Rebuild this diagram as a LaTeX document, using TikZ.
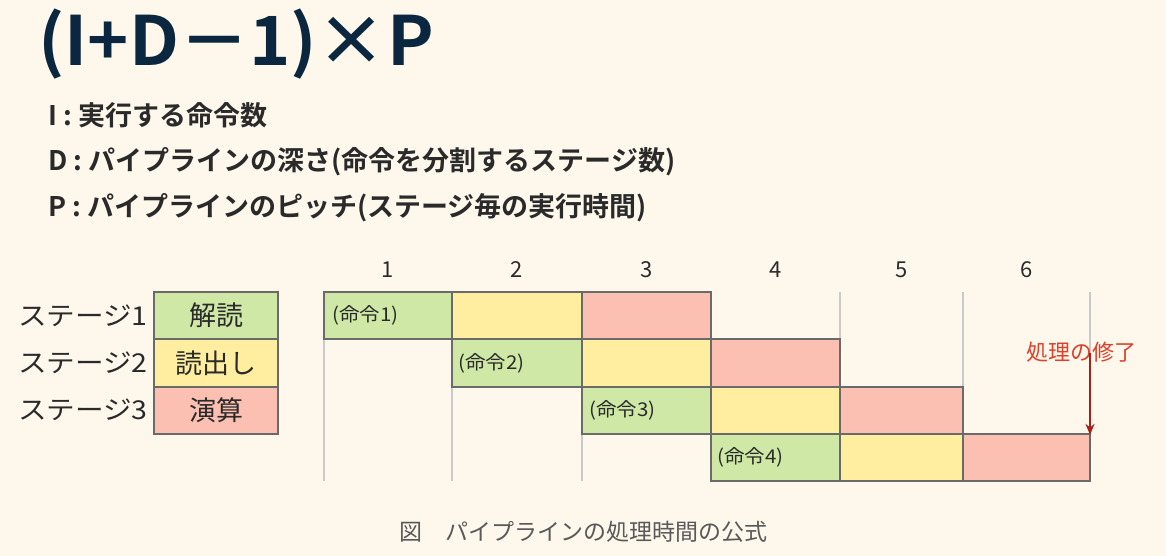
\documentclass[tikz,border=0pt]{standalone}
\usepackage{fontspec}
\setmainfont{Noto Sans CJK JP}
\newfontfamily\jp{Noto Sans CJK JP}
\newfontfamily\jpb{Noto Sans CJK JP Bold}
\usetikzlibrary{arrows.meta}
\definecolor{bgc}{HTML}{FEF8EC}
\definecolor{gfill}{HTML}{CFE8A6}
\definecolor{yfill}{HTML}{FFEE9F}
\definecolor{rfill}{HTML}{FBC0B1}
\definecolor{edge}{HTML}{6A6A6A}
\definecolor{gridc}{HTML}{CACACA}
\definecolor{navy}{HTML}{0B2740}
\definecolor{txt}{HTML}{2A2A2A}
\definecolor{redt}{HTML}{E0402A}
\definecolor{arr}{HTML}{A82018}
\tikzset{
  cell/.style={draw=edge, line width=1.8pt, minimum width=#1, minimum height=47.3pt, anchor=north west, inner sep=0pt, outer sep=0pt},
  cell/.default=128pt,
  gcell/.style={cell=#1, fill=gfill}, gcell/.default=128pt,
  ycell/.style={cell=#1, fill=yfill}, ycell/.default=128pt,
  rcell/.style={cell=#1, fill=rfill}, rcell/.default=128pt,
  stagelbl/.style={anchor=east, font=\jp\fontsize{26}{28}\selectfont, text=txt, inner sep=0pt, xscale=1.1},
  legtxt/.style={font=\jp\fontsize{27}{28}\selectfont, text=txt, inner sep=0pt},
  instr/.style={anchor=west, font=\jp\fontsize{19}{20}\selectfont, text=txt, inner sep=0pt, xscale=1.08},
  colnum/.style={font=\jp\fontsize{22}{24}\selectfont, text=txt, inner sep=0pt},
  defl/.style={anchor=west, font=\jpb\fontsize{27}{30}\selectfont, text=txt, inner sep=0pt},
  gridline/.style={draw=gridc, line width=1.5pt},
}
\begin{document}
\begin{tikzpicture}[x=1pt, y=-1pt]
\fill[bgc] (0,0) rectangle (1166,556);
\useasboundingbox (0,0) rectangle (1166,556);

% title
\node[anchor=west, inner sep=0pt, text=navy, font=\jpb\fontsize{68}{72}\selectfont, xscale=1.03] (title) at (38,44) {(I+D－1)×P};

% definitions
\node[defl] (dI) at (48,115) {I : 実行する命令数};
\node[defl] (dD) at (48,162) {D : パイプラインの深さ(命令を分割するステージ数)};
\node[defl] (dP) at (48,208) {P : パイプラインのピッチ(ステージ毎の実行時間)};

% grid lines
\foreach \x/\n in {324/g0,452/g1,582/g2,711/g3,840/g4,963/g5,1090/g6}{
  \coordinate (\n t) at (\x,292);
  \coordinate (\n b) at (\x,481);
  \draw[gridline] (\n t) -- (\n b);
}

% column numbers
\node[colnum] (n1) at (388,270) {1};
\node[colnum] (n2) at (517,270) {2};
\node[colnum] (n3) at (647,270) {3};
\node[colnum] (n4) at (776,270) {4};
\node[colnum] (n5) at (902,270) {5};
\node[colnum] (n6) at (1027,270) {6};

% legend
\node[gcell=124pt] (L1) at (154,292) {};
\node[ycell=124pt] (L2) at (154,339.3) {};
\node[rcell=124pt] (L3) at (154,386.6) {};
\node[legtxt] at (L1.center) {解読};
\node[legtxt] at (L2.center) {読出し};
\node[legtxt] at (L3.center) {演算};
\node[stagelbl] (s1) at (148,316) {ステージ1};
\node[stagelbl] (s2) at (148,363) {ステージ2};
\node[stagelbl] (s3) at (148,410) {ステージ3};

% pipeline cells
\node[gcell] (a1) at (324,292) {};
\node[ycell=130pt] (a2) at (452,292) {};
\node[rcell=129pt] (a3) at (582,292) {};

\node[gcell=130pt] (b1) at (452,339.3) {};
\node[ycell=129pt] (b2) at (582,339.3) {};
\node[rcell=129pt] (b3) at (711,339.3) {};

\node[gcell=129pt] (c1) at (582,386.6) {};
\node[ycell=129pt] (c2) at (711,386.6) {};
\node[rcell=123pt] (c3) at (840,386.6) {};

\node[gcell=129pt] (d1) at (711,433.9) {};
\node[ycell=123pt] (d2) at (840,433.9) {};
\node[rcell=127pt] (d3) at (963,433.9) {};

\node[instr] at ([xshift=8pt]a1.west) {(命令1)};
\node[instr] at ([xshift=6pt]b1.west) {(命令2)};
\node[instr] at ([xshift=7pt]c1.west) {(命令3)};
\node[instr] at ([xshift=6pt]d1.west) {(命令4)};

% end marker
\node[font=\jp\fontsize{22}{24}\selectfont, text=redt, inner sep=0pt] (fin) at (1081,352) {処理の修了};
\draw[arr, line width=1.8pt, -{Stealth[length=11pt,width=9pt]}] ([yshift=9pt]fin.south -| d3.north east) -- ([yshift=-1pt]d3.north east);

% caption
\node[font=\jp\fontsize{23}{26}\selectfont, text=black!65, inner sep=0pt] (cap) at (583,532) {図\hspace{1em}パイプラインの処理時間の公式};
\end{tikzpicture}
\end{document}
